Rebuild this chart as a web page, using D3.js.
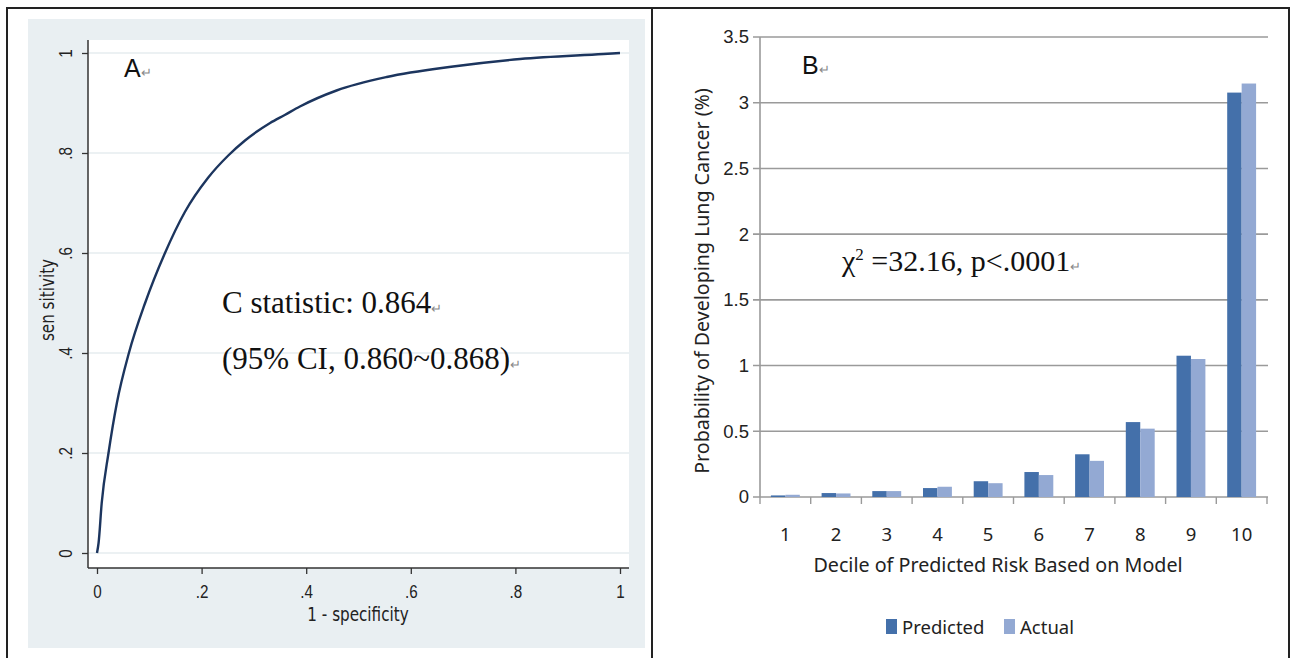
<!doctype html>
<html>
<head>
<meta charset="utf-8">
<script src="https://d3js.org/d3.v7.min.js"></script>
<style>
  body { margin: 0; background: #fff; }
  svg { display: block; }
  .stata { font-family: "DejaVu Sans", sans-serif; }
  .xl { font-family: "Noto Sans", "Liberation Sans", Arial, sans-serif; }
  .serif { font-family: "Liberation Serif", "Times New Roman", serif; }
</style>
</head>
<body>
<div id="chart"></div>
<script>
// ---- panel A: ROC curve
var rocFpr  = [0, 0.003, 0.009, 0.022, 0.038, 0.061, 0.092, 0.130, 0.168, 0.212, 0.251, 0.283, 0.331, 0.359, 0.388, 0.458, 0.554, 0.681, 0.809, 0.968, 1];
var rocSens = [0, 0.02, 0.10, 0.20, 0.30, 0.40, 0.50, 0.60, 0.682, 0.75, 0.795, 0.825, 0.86, 0.876, 0.893, 0.925, 0.952, 0.973, 0.988, 0.998, 1];
var rocTicks = [0, 0.2, 0.4, 0.6, 0.8, 1];
var rocTickLabels = ["0", ".2", ".4", ".6", ".8", "1"];

// ---- panel B: calibration by decile
var deciles   = ["1", "2", "3", "4", "5", "6", "7", "8", "9", "10"];
var predicted = [0.012, 0.03, 0.045, 0.068, 0.12, 0.19, 0.325, 0.57, 1.075, 3.077];
var actual    = [0.017, 0.027, 0.045, 0.078, 0.105, 0.167, 0.275, 0.52, 1.05, 3.146];
var seriesNames = ["Predicted", "Actual"];
var barTicks = [0, 0.5, 1, 1.5, 2, 2.5, 3, 3.5];

var W = 1291, H = 658;
var narrow = 0.8; // Stata's condensed look
var svg = d3.select("#chart").append("svg").attr("width", W).attr("height", H);

// outer frame + divider
svg.append("rect").attr("x", 7).attr("y", 8).attr("width", 1282).attr("height", 652)
  .attr("fill", "none").attr("stroke", "#222").attr("stroke-width", 2);
svg.append("line").attr("x1", 652).attr("x2", 652).attr("y1", 8).attr("y2", H)
  .attr("stroke", "#222").attr("stroke-width", 2);

// ================= panel A =================
var A = svg.append("g").attr("class", "stata");
A.append("rect").attr("x", 28).attr("y", 19).attr("width", 617).attr("height", 629).attr("fill", "#e9eff2");
A.append("rect").attr("x", 88).attr("y", 40).attr("width", 541).attr("height", 528).attr("fill", "#fff");

var xA = d3.scaleLinear().domain([0, 1]).range([97, 620]);
var yA = d3.scaleLinear().domain([0, 1]).range([553, 53]);

// grid
A.selectAll("line.grid").data(rocTicks).enter().append("line")
  .attr("x1", 89).attr("x2", 629)
  .attr("y1", d => yA(d)).attr("y2", d => yA(d))
  .attr("stroke", "#e6ecef").attr("stroke-width", 1.6);

// axes
var axL = A.append("g").attr("transform", "translate(88,0)")
  .call(d3.axisLeft(yA).tickValues(rocTicks).tickSize(6).tickFormat((d, i) => rocTickLabels[i]));
axL.select(".domain").attr("d", "M0,40V568").attr("stroke", "#333").attr("stroke-width", 1.5);
axL.selectAll(".tick line").attr("stroke", "#333").attr("stroke-width", 1.3);
axL.selectAll(".tick text").attr("x", 0).attr("dy", 0)
  .attr("transform", "translate(-16,0) rotate(-90) scale(" + narrow + ",1)")
  .attr("text-anchor", "middle").attr("fill", "#222")
  .style("font-size", "19px").style("font-family", null);

var axB = A.append("g").attr("transform", "translate(0,568)")
  .call(d3.axisBottom(xA).tickValues(rocTicks).tickSize(6).tickFormat((d, i) => rocTickLabels[i]));
axB.select(".domain").attr("d", "M88,0H629").attr("stroke", "#333").attr("stroke-width", 1.5);
axB.selectAll(".tick text").attr("y", 0).attr("dy", 0)
  .attr("transform", "translate(0,30) scale(" + narrow + ",1)").attr("fill", "#222")
  .style("font-size", "19px").style("font-family", null);
axB.selectAll(".tick line").attr("stroke", "#333").attr("stroke-width", 1.3);

A.append("text").attr("transform", "translate(358,621) scale(" + narrow + ",1)").attr("text-anchor", "middle")
  .attr("fill", "#222").style("font-size", "19px").text("1 - specificity");
A.append("text").attr("transform", "translate(54,300) rotate(-90) scale(" + narrow + ",1)").attr("text-anchor", "middle")
  .attr("fill", "#222").style("font-size", "19px").text("sen sitivity");

// ROC line
var rocData = rocFpr.map((f, i) => [f, rocSens[i]]);
A.append("path").datum(rocData)
  .attr("fill", "none").attr("stroke", "#1c355e").attr("stroke-width", 2.4)
  .attr("d", d3.line().x(d => xA(d[0])).y(d => yA(d[1])).curve(d3.curveMonotoneX));

// annotations
function retMark(t, size) {
  t.append("tspan").attr("fill", "#888").style("font-size", size + "px").text("\u21B5");
}
var tA = A.append("text").attr("x", 124).attr("y", 77).style("font-family", "Liberation Sans, Arial, sans-serif")
  .style("font-size", "25px").attr("fill", "#111");
tA.append("tspan").text("A"); retMark(tA, 13);

var c1 = A.append("text").attr("class", "serif").attr("x", 222).attr("y", 313).style("font-size", "31px").attr("fill", "#111");
c1.append("tspan").text("C statistic: 0.864"); retMark(c1, 13);
var c2 = A.append("text").attr("class", "serif").attr("x", 222).attr("y", 369).style("font-size", "31px").attr("fill", "#111");
c2.append("tspan").text("(95% CI, 0.860~0.868)"); retMark(c2, 13);

// ================= panel B =================
var B = svg.append("g").attr("class", "xl");
var colors = { Predicted: "#4470aa", Actual: "#93a9d3" };

var x0 = d3.scaleBand().domain(deciles).range([760, 1267]).paddingInner(0.43).paddingOuter(0.215);
var x1 = d3.scaleBand().domain(seriesNames).range([0, x0.bandwidth()]);
var yB = d3.scaleLinear().domain([0, 3.5]).range([497, 37]);

B.selectAll("line.grid").data(barTicks).enter().append("line")
  .attr("x1", 753).attr("x2", 1268)
  .attr("y1", d => yB(d)).attr("y2", d => yB(d))
  .attr("stroke", "#9a9a9a").attr("stroke-width", 1.6);
B.append("line").attr("x1", 760).attr("x2", 760).attr("y1", yB(3.5)).attr("y2", yB(0))
  .attr("stroke", "#9a9a9a").attr("stroke-width", 1.6);

var axY = B.append("g").attr("transform", "translate(760,0)")
  .call(d3.axisLeft(yB).tickValues(barTicks).tickSize(0).tickPadding(11).tickFormat(d3.format("")));
axY.select(".domain").remove();
axY.selectAll(".tick text").attr("fill", "#222").style("font-size", "18.5px").style("font-family", null);

// category boundary ticks
var bounds = d3.range(deciles.length + 1).map(i => x0.range()[0] + i * x0.step());
B.selectAll("line.ctick").data(bounds).enter().append("line")
  .attr("x1", d => d).attr("x2", d => d).attr("y1", yB(0)).attr("y2", yB(0) + 7)
  .attr("stroke", "#9a9a9a").attr("stroke-width", 1.4);

B.selectAll("text.cat").data(deciles).enter().append("text")
  .attr("x", d => x0(d) + x0.bandwidth() / 2).attr("y", 541)
  .attr("text-anchor", "middle").attr("fill", "#222").style("font-size", "18.5px").text(d => d);

// bars
var rows = deciles.map((d, i) => ({ decile: d, Predicted: predicted[i], Actual: actual[i] }));
var groups = B.selectAll("g.dec").data(rows).enter().append("g")
  .attr("transform", d => "translate(" + x0(d.decile) + ",0)");
groups.selectAll("rect").data(d => seriesNames.map(s => ({ s: s, v: d[s] }))).enter().append("rect")
  .attr("x", d => x1(d.s)).attr("width", x1.bandwidth())
  .attr("y", d => yB(d.v)).attr("height", d => yB(0) - yB(d.v))
  .attr("fill", d => colors[d.s]);

B.append("text").attr("x", 998).attr("y", 572).attr("text-anchor", "middle")
  .attr("fill", "#222").style("font-size", "19.7px").text("Decile of Predicted Risk Based on Model");
B.append("text").attr("transform", "translate(709,281) rotate(-90)").attr("text-anchor", "middle")
  .attr("fill", "#222").style("font-size", "19.6px").text("Probability of Developing Lung Cancer (%)");

// legend
var legX = [886, 1004];
seriesNames.forEach(function(s, i) {
  B.append("rect").attr("x", legX[i]).attr("y", 619).attr("width", 11).attr("height", 15).attr("fill", colors[s]);
  B.append("text").attr("x", legX[i] + 16).attr("y", 634).attr("fill", "#222").style("font-size", "18.5px").text(s);
});

var tB = B.append("text").attr("x", 802).attr("y", 74).style("font-family", "Liberation Sans, Arial, sans-serif")
  .style("font-size", "25px").attr("fill", "#111");
tB.append("tspan").text("B"); retMark(tB, 13);

var chi = B.append("text").attr("class", "serif").attr("x", 842).attr("y", 271).style("font-size", "30px").attr("fill", "#111");
chi.append("tspan").text("\u03C7");
chi.append("tspan").attr("dy", -11).style("font-size", "17px").text("2");
chi.append("tspan").attr("dy", 11).text(" =32.16, p<.0001");
retMark(chi, 13);
</script>
</body>
</html>
